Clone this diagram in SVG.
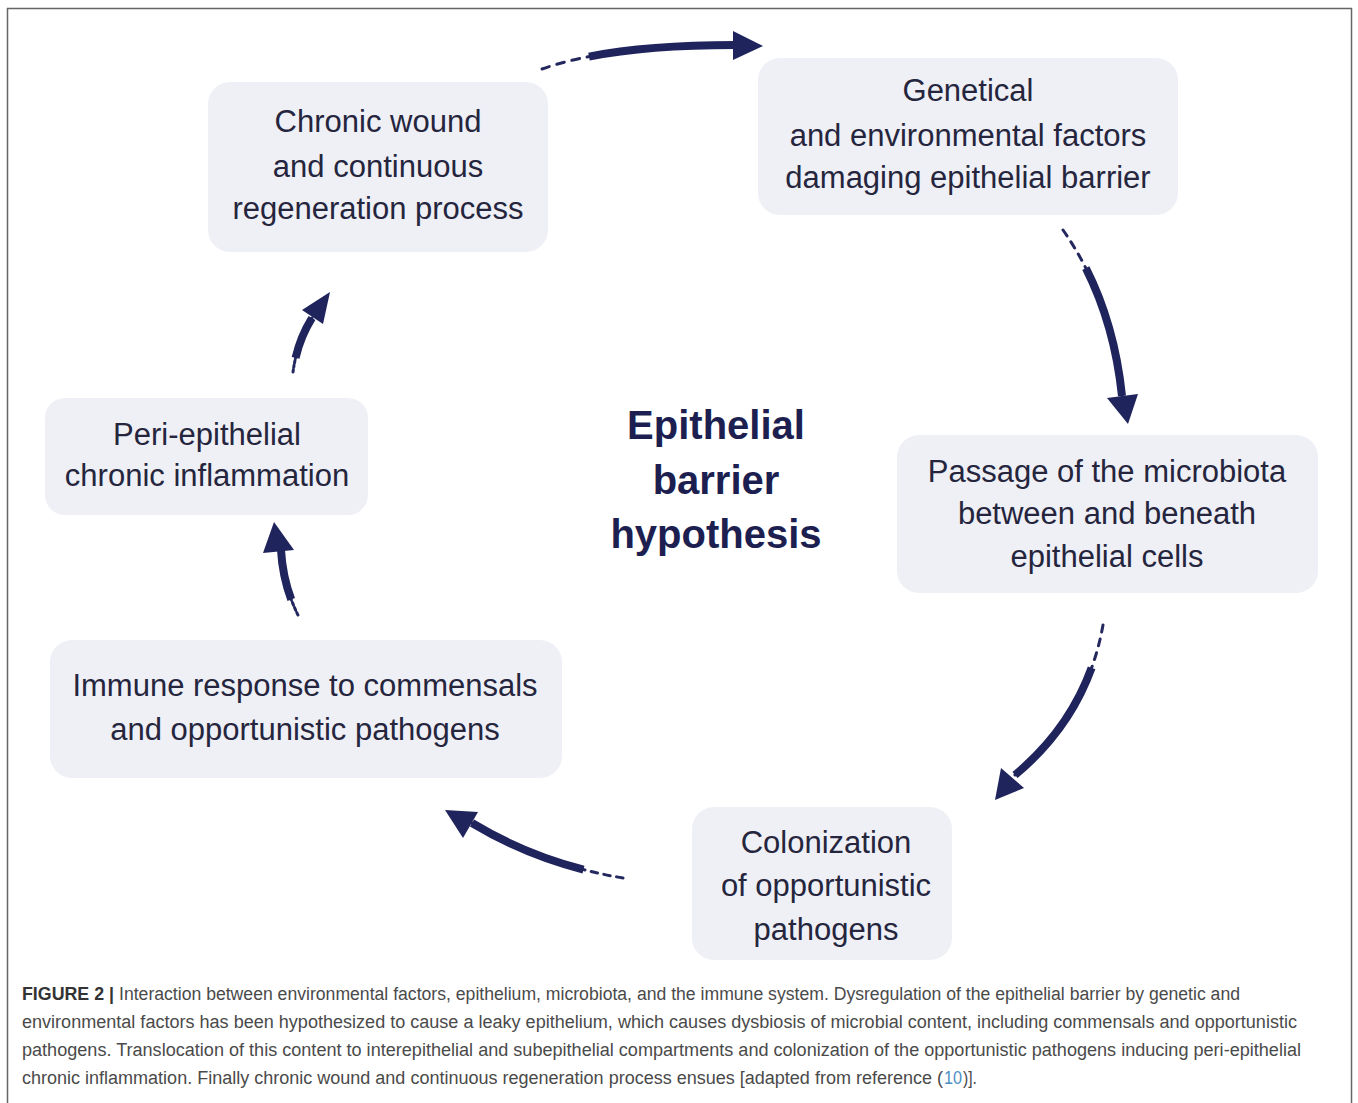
<svg xmlns="http://www.w3.org/2000/svg" width="1358" height="1103" viewBox="0 0 1358 1103">
<defs>
<style>
.box{fill:#eef0f6;}
.bt{font-family:"Liberation Sans",Arial,sans-serif;font-size:31px;fill:#25253d;text-anchor:middle;}
.title{font-family:"Liberation Sans",Arial,sans-serif;font-size:40px;font-weight:bold;fill:#1c1f4f;text-anchor:middle;}
.cap{font-family:"Liberation Sans",Arial,sans-serif;font-size:18px;fill:#4a4a4a;}
.capb{font-weight:bold;fill:#333333;}
.link{fill:#4a8fc4;}
.thin{fill:none;stroke:#24285e;stroke-width:3;stroke-linecap:round;stroke-dasharray:4 4;}
.thick{fill:none;stroke:#20245c;stroke-width:8;stroke-dasharray:0 25 75 0;}
.head{fill:#20245c;}
</style>
</defs>
<rect x="7.5" y="8.5" width="1344" height="1110" fill="#ffffff" stroke="#666666" stroke-width="1.5"/>

<g id="node-chronic-wound">
<rect class="box" x="208" y="82" width="340" height="170" rx="22"/>
<text class="bt" x="378" y="132">Chronic wound</text>
<text class="bt" x="378" y="177">and continuous</text>
<text class="bt" x="378" y="219">regeneration process</text>
</g>
<g id="node-genetical">
<rect class="box" x="758" y="58" width="420" height="157" rx="22"/>
<text class="bt" x="968" y="101">Genetical</text>
<text class="bt" x="968" y="146">and environmental factors</text>
<text class="bt" x="968" y="188">damaging epithelial barrier</text>
</g>
<g id="node-passage">
<rect class="box" x="897" y="435" width="421" height="158" rx="22"/>
<text class="bt" x="1107" y="482">Passage of the microbiota</text>
<text class="bt" x="1107" y="524">between and beneath</text>
<text class="bt" x="1107" y="567">epithelial cells</text>
</g>
<g id="node-colonization">
<rect class="box" x="692" y="807" width="260" height="153" rx="22"/>
<text class="bt" x="826" y="853">Colonization</text>
<text class="bt" x="826" y="896">of opportunistic</text>
<text class="bt" x="826" y="940">pathogens</text>
</g>
<g id="node-immune">
<rect class="box" x="50" y="640" width="512" height="138" rx="22"/>
<text class="bt" x="305" y="696">Immune response to commensals</text>
<text class="bt" x="305" y="740">and opportunistic pathogens</text>
</g>
<g id="node-peri">
<rect class="box" x="45" y="398" width="323" height="117" rx="20"/>
<text class="bt" x="207" y="445">Peri-epithelial</text>
<text class="bt" x="207" y="486">chronic inflammation</text>
</g>
<g id="node-center">
<text class="title" x="716" y="439">Epithelial</text>
<text class="title" x="716" y="494">barrier</text>
<text class="title" x="716" y="548">hypothesis</text>
</g>

<g id="connectors">
<path class="thin" d="M542,69 Q610,45 735,45" pathLength="100"/>
<path class="thick" d="M542,69 Q610,45 735,45" pathLength="100"/>
<polygon class="head" points="733,31 763,46 733,60"/>

<path class="thin" d="M1063,230 Q1112,300 1122,396" pathLength="100"/>
<path class="thick" d="M1063,230 Q1112,300 1122,396" pathLength="100"/>
<polygon class="head" points="1107,398 1138,394 1128,424"/>

<path class="thin" d="M1103,625 Q1087,715 1015,775" pathLength="100"/>
<path class="thick" d="M1103,625 Q1087,715 1015,775" pathLength="100"/>
<polygon class="head" points="1001,768 1024,788 995,800"/>

<path class="thin" d="M623,878 Q540,864 472,823" pathLength="100"/>
<path class="thick" d="M623,878 Q540,864 472,823" pathLength="100"/>
<polygon class="head" points="463,838 478,812 445,810"/>

<path class="thin" d="M298,615 Q283,585 281,550" pathLength="100"/>
<path class="thick" d="M298,615 Q283,585 281,550" pathLength="100"/>
<polygon class="head" points="263,553 294,550 274,522"/>

<path class="thin" d="M293,372 Q297,342 312,318" pathLength="100"/>
<path class="thick" d="M293,372 Q297,342 312,318" pathLength="100"/>
<polygon class="head" points="302,310 323,324 330,292"/>
</g>

<g id="caption">
<text class="cap capb" x="22" y="1000" textLength="92" lengthAdjust="spacingAndGlyphs">FIGURE 2 |</text>
<text class="cap" x="119" y="1000" textLength="1121" lengthAdjust="spacingAndGlyphs">Interaction between environmental factors, epithelium, microbiota, and the immune system. Dysregulation of the epithelial barrier by genetic and</text>
<text class="cap" x="22" y="1028" textLength="1275" lengthAdjust="spacingAndGlyphs">environmental factors has been hypothesized to cause a leaky epithelium, which causes dysbiosis of microbial content, including commensals and opportunistic</text>
<text class="cap" x="22" y="1056" textLength="1279" lengthAdjust="spacingAndGlyphs">pathogens. Translocation of this content to interepithelial and subepithelial compartments and colonization of the opportunistic pathogens inducing peri-epithelial</text>
<text class="cap" x="22" y="1084" textLength="921" lengthAdjust="spacingAndGlyphs">chronic inflammation. Finally chronic wound and continuous regeneration process ensues [adapted from reference (</text>
<text class="cap link" x="944" y="1084" textLength="18" lengthAdjust="spacingAndGlyphs">10</text>
<text class="cap" x="963" y="1084" textLength="14" lengthAdjust="spacingAndGlyphs">)].</text>
</g>
</svg>
